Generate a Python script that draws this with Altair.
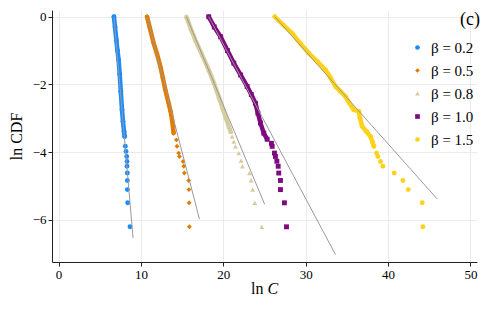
import altair as alt
import pandas as pd

labels = ["β = 0.2", "β = 0.5", "β = 0.8", "β = 1.0", "β = 1.5"]
colors = ["#1a8cff", "#e27c00", "#d6cd9c", "#7f0a80", "#ffd21a"]
shapes = ["circle", "diamond", "triangle-up", "square", "circle"]

# dense (band) parts of each ln CDF curve
dense_x = [
    [6.72, 6.85, 7.02, 7.15, 7.29, 7.42, 7.55, 7.70, 7.82, 7.95, 8.02],
    [10.74, 11.10, 11.54, 11.95, 12.36, 12.65, 12.96, 13.37, 13.60, 13.78, 13.97],
    [15.52, 16.05, 16.61, 17.40, 18.23, 18.85, 19.44, 19.85, 20.25, 20.66, 20.90],
    [18.23, 18.90, 19.67, 20.50, 21.27, 22.10, 22.89, 23.40, 23.90, 24.20, 24.51, 24.91, 25.32],
    [26.25, 27.30, 28.36, 29.40, 30.38, 31.40, 32.41, 33.00, 33.62, 34.20, 34.83, 35.30,
     35.84, 36.45, 36.60, 36.86, 37.40, 37.87, 38.10, 38.28],
]
dense_y = [
    [0, -0.30, -0.70, -1.00, -1.28, -1.70, -2.20, -2.75, -3.10, -3.40, -3.54],
    [0, -0.35, -0.78, -1.10, -1.47, -1.80, -2.16, -2.56, -2.80, -3.05, -3.44],
    [0, -0.35, -0.69, -1.12, -1.57, -1.95, -2.36, -2.65, -2.95, -3.24, -3.40],
    [0, -0.30, -0.59, -1.00, -1.37, -1.72, -2.06, -2.30, -2.56, -2.85, -3.14, -3.44, -3.62],
    [0, -0.25, -0.49, -0.80, -1.08, -1.32, -1.57, -1.80, -2.06, -2.20, -2.36, -2.55,
     -2.75, -2.80, -3.00, -3.24, -3.40, -3.54, -3.70, -3.83],
]
# sparse tail points
tail_x = [
    [8.10, 8.19, 8.27, 8.31, 8.31, 8.35, 8.35, 8.35, 8.39, 8.67],
    [14.30, 14.38, 14.58, 14.67, 15.11, 15.20, 15.27, 15.80, 15.82, 15.85, 15.88],
    [21.07, 21.27, 21.47, 21.87, 22.16, 22.32, 23.17, 23.37, 23.57, 23.82, 24.67],
    [25.84, 25.93, 26.21, 26.33, 26.50, 26.66, 26.73, 26.94, 26.94, 27.42, 27.67],
    [38.60, 38.76, 39.09, 39.37, 40.75, 41.80, 42.45, 44.15, 44.23],
]
tail_y = [
    [-3.83, -3.98, -4.13, -4.28, -4.42, -4.62, -4.84, -5.11, -5.50, -6.21],
    [-3.64, -3.83, -4.03, -4.13, -4.28, -4.42, -4.62, -4.84, -5.11, -5.50, -6.21],
    [-3.54, -3.69, -3.83, -4.03, -4.25, -4.42, -4.62, -4.84, -5.11, -5.50, -6.21],
    [-3.74, -3.83, -4.03, -4.13, -4.27, -4.42, -4.62, -4.84, -5.11, -5.50, -6.21],
    [-4.03, -4.13, -4.28, -4.42, -4.62, -4.84, -5.11, -5.50, -6.21],
]
# fitted straight lines (start and end)
fit_x = [[6.72, 9.04], [10.74, 17.10], [15.52, 25.03], [18.23, 33.62], [26.25, 45.98]]
fit_y = [[0, -6.54], [0, -5.98], [0, -5.55], [0, -7.03], [0, -5.39]]

rows, band, fits = [], [], []
for i, lab in enumerate(labels):
    for x, y in zip(dense_x[i], dense_y[i]):
        rows.append({"x": x, "y": y, "beta": lab})
        band.append({"x": x, "y": y, "beta": lab, "col": colors[i]})
    for x, y in zip(tail_x[i], tail_y[i]):
        rows.append({"x": x, "y": y, "beta": lab})
    for x, y in zip(fit_x[i], fit_y[i]):
        fits.append({"x": x, "y": y, "beta": lab})

pts = pd.DataFrame(rows)
bnd = pd.DataFrame(band)
fit = pd.DataFrame(fits)

SERIF = "Liberation Serif"

X = alt.X("x:Q", scale=alt.Scale(domain=[-0.8, 50.8], nice=False, zero=False),
          axis=alt.Axis(values=[0, 10, 20, 30, 40, 50], title=None, format="d",
                        labelFont=SERIF))
Y = alt.Y("y:Q", scale=alt.Scale(domain=[-7.25, 0.2], nice=False, zero=False),
          axis=alt.Axis(values=[0, -2, -4, -6], title="ln CDF", format="d",
                        titlePadding=8, labelFont=SERIF, titleFont=SERIF))

band_layer = alt.Chart(bnd).mark_line(strokeWidth=4.5, strokeCap="round").encode(
    x=X, y=Y, color=alt.Color("col:N", scale=None), detail="beta:N")

point_layer = alt.Chart(pts).mark_point(filled=True, opacity=1, size=24).encode(
    x=X, y=Y,
    color=alt.Color("beta:N", scale=alt.Scale(domain=labels, range=colors),
                    legend=alt.Legend(title=None, orient="none", legendX=358, legendY=30,
                                      symbolSize=22, labelFontSize=15, rowPadding=7,
                                      labelOffset=6, padding=0, labelFont=SERIF)),
    shape=alt.Shape("beta:N", scale=alt.Scale(domain=labels, range=shapes)),
)

fit_layer = alt.Chart(fit).mark_line(color="#9a9a9a", strokeWidth=1).encode(
    x=X, y=Y, detail="beta:N")

xt1 = alt.Chart(pd.DataFrame({"t": ["ln"]})).mark_text(
    align="left", baseline="middle", fontSize=16, font=SERIF, color="#000"
).encode(text="t:N", x=alt.value(199), y=alt.value(279))
xt2 = alt.Chart(pd.DataFrame({"t": ["C"]})).mark_text(
    align="left", baseline="middle", fontSize=16, font=SERIF,
    fontStyle="italic", color="#000"
).encode(text="t:N", x=alt.value(215.5), y=alt.value(279))
tag = alt.Chart(pd.DataFrame({"t": ["(c)"]})).mark_text(
    align="right", baseline="middle", fontSize=18, font=SERIF, color="#000"
).encode(text="t:N", x=alt.value(428), y=alt.value(10))

chart = alt.layer(band_layer, point_layer, fit_layer, xt1, xt2, tag).properties(
    width=425, height=252,
    autosize=alt.AutoSizeParams(type="none"),
    padding={"left": 44, "top": 2, "right": 3, "bottom": 41},
).configure_view(stroke=None).configure_axis(
    labelFont=SERIF, titleFont=SERIF,
    labelFontSize=13, titleFontSize=16, titleFontWeight="normal",
    labelColor="#000", titleColor="#000",
    domainColor="#222", tickColor="#222", tickSize=4, labelPadding=2,
    gridColor="#ebebeb", gridWidth=1,
).configure_legend(labelFont=SERIF, labelColor="#000")

chart.save("out.html", embed_options={"renderer": "svg", "actions": False})
